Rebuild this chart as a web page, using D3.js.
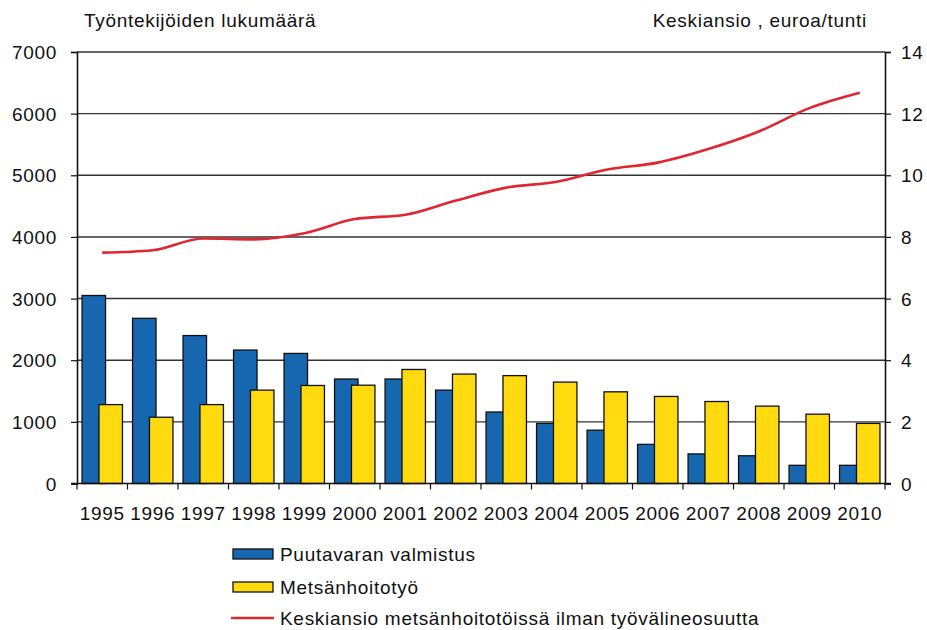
<!DOCTYPE html>
<html>
<head>
  <style type="text/css">
    body { margin: 0; background: #fff; }
    text { font-family: "Liberation Sans", Arial, sans-serif; fill: #111; letter-spacing: 0.7px; }
  </style>
</head>
<body>
  <svg width="927" height="630" id="chart"></svg>
  <script src="https://d3js.org/d3.v7.min.js"></script>
  <script>

const years = ['1995','1996','1997','1998','1999','2000','2001','2002','2003','2004','2005','2006','2007','2008','2009','2010']
const puutavara = [3050, 2680, 2400, 2165, 2110, 1695, 1695, 1515, 1160, 975, 865, 635, 480, 450, 295, 295]
const metsanhoito = [1280, 1075, 1280, 1515, 1590, 1595, 1850, 1775, 1750, 1645, 1487, 1412, 1330, 1255, 1125, 975]
const keskiansio = [7.49, 7.57, 7.95, 7.92, 8.12, 8.58, 8.72, 9.18, 9.6, 9.79, 10.19, 10.41, 10.85, 11.42, 12.18, 12.68]
const leftTicks = [0, 1000, 2000, 3000, 4000, 5000, 6000, 7000]
const rightTicks = [0, 2, 4, 6, 8, 10, 12, 14]

function translate(x, y) { return 'translate(' + x + ',' + y + ')'; }

const svg = d3.select('#chart')
const plotL = 77, plotR = 885, plotT = 52, plotB = 483.5
const fontSize = 19

const x = d3.scaleBand().domain(years).range([plotL, plotR])
const y = d3.scaleLinear().domain([0, 7000]).range([plotB, plotT])
const y2 = d3.scaleLinear().domain([0, 14]).range([plotB, plotT])
const bw = x.bandwidth()

// gridlines
svg.append('g')
  .selectAll('line')
  .data(leftTicks.slice(1))
  .join('line')
    .attr('x1', plotL).attr('x2', plotR)
    .attr('y1', d => y(d)).attr('y2', d => y(d))
    .attr('stroke', '#333').attr('stroke-width', 1.4)

// bars
svg.append('g')
  .selectAll('rect')
  .data(puutavara)
  .join('rect')
    .attr('x', (d, i) => x(years[i]) + bw * 0.1)
    .attr('y', d => y(d))
    .attr('width', bw * 0.465)
    .attr('height', d => plotB - y(d))
    .attr('fill', '#1766b0')
    .attr('stroke', '#111').attr('stroke-width', 1.3)

svg.append('g')
  .selectAll('rect')
  .data(metsanhoito)
  .join('rect')
    .attr('x', (d, i) => x(years[i]) + bw * 0.435)
    .attr('y', d => y(d))
    .attr('width', bw * 0.465)
    .attr('height', d => plotB - y(d))
    .attr('fill', '#ffda0f')
    .attr('stroke', '#111').attr('stroke-width', 1.3)

// line
let line = d3.line()
  .x((d, i) => x(years[i]) + bw / 2)
  .y(d => y2(d))
  .curve(d3.curveMonotoneX)

svg.append('path')
  .datum(keskiansio)
  .attr('d', line)
  .attr('fill', 'none')
  .attr('stroke', '#e0262e')
  .attr('stroke-width', 2.6)

// axes
let axisL = svg.append('g').attr('transform', translate(plotL, 0))
  .call(d3.axisLeft(y).tickValues(leftTicks).tickSize(6).tickPadding(14).tickFormat(d3.format('d')))
let axisR = svg.append('g').attr('transform', translate(plotR, 0))
  .call(d3.axisRight(y2).tickValues(rightTicks).tickSize(6).tickPadding(10))
let axisB = svg.append('g').attr('transform', translate(0, plotB))
  .call(d3.axisBottom(x).tickSize(0).tickPadding(23))

svg.append('g')
  .selectAll('line')
  .data(years.concat(['end']))
  .join('line')
    .attr('x1', (d, i) => plotL + i * bw).attr('x2', (d, i) => plotL + i * bw)
    .attr('y1', plotB).attr('y2', plotB + 6)
    .attr('stroke', '#111').attr('stroke-width', 1.2)

;[axisL, axisR, axisB].forEach(a => {
  a.selectAll('path.domain').attr('stroke', '#111').attr('stroke-width', 1.6)
  a.selectAll('.tick line').attr('stroke', '#111').attr('stroke-width', 1.2)
  a.selectAll('.tick text').attr('font-size', fontSize).attr('fill', '#111')
    .attr('font-family', '"Liberation Sans", Arial, sans-serif')
})
axisB.select('path.domain').remove()
svg.append('line').attr('x1', plotL - 6).attr('x2', plotR + 6)
  .attr('y1', plotB).attr('y2', plotB).attr('stroke', '#111').attr('stroke-width', 1.6)
axisL.selectAll('.tick text').attr('dy', '0.35em')
axisR.selectAll('.tick text').attr('dy', '0.35em')

// titles
svg.append('text').attr('x', 84).attr('y', 27).attr('font-size', fontSize)
  .text('Työntekijöiden lukumäärä')
svg.append('text').attr('x', 867).attr('y', 27).attr('font-size', fontSize).attr('text-anchor', 'end')
  .text('Keskiansio , euroa/tunti')

// legend
const legendNames = ['Puutavaran valmistus', 'Metsänhoitotyö', 'Keskiansio metsänhoitotöissä ilman työvälineosuutta']
const legendColors = ['#1766b0', '#ffda0f', '#e0262e']
const legendRows = [554, 587, 618]
let legend = svg.append('g')
legendNames.forEach((name, i) => {
  let cy = legendRows[i]
  if (i < 2) {
    legend.append('rect').attr('x', 233).attr('y', cy - 5).attr('width', 40).attr('height', 10)
      .attr('fill', legendColors[i]).attr('stroke', '#111').attr('stroke-width', 1.3)
  } else {
    legend.append('line').attr('x1', 231).attr('x2', 274).attr('y1', cy).attr('y2', cy)
      .attr('stroke', legendColors[i]).attr('stroke-width', 2.6)
  }
  legend.append('text').attr('x', 280).attr('y', cy).attr('dy', '0.35em').attr('font-size', fontSize)
    .text(name)
})

  </script>
</body>
</html>
